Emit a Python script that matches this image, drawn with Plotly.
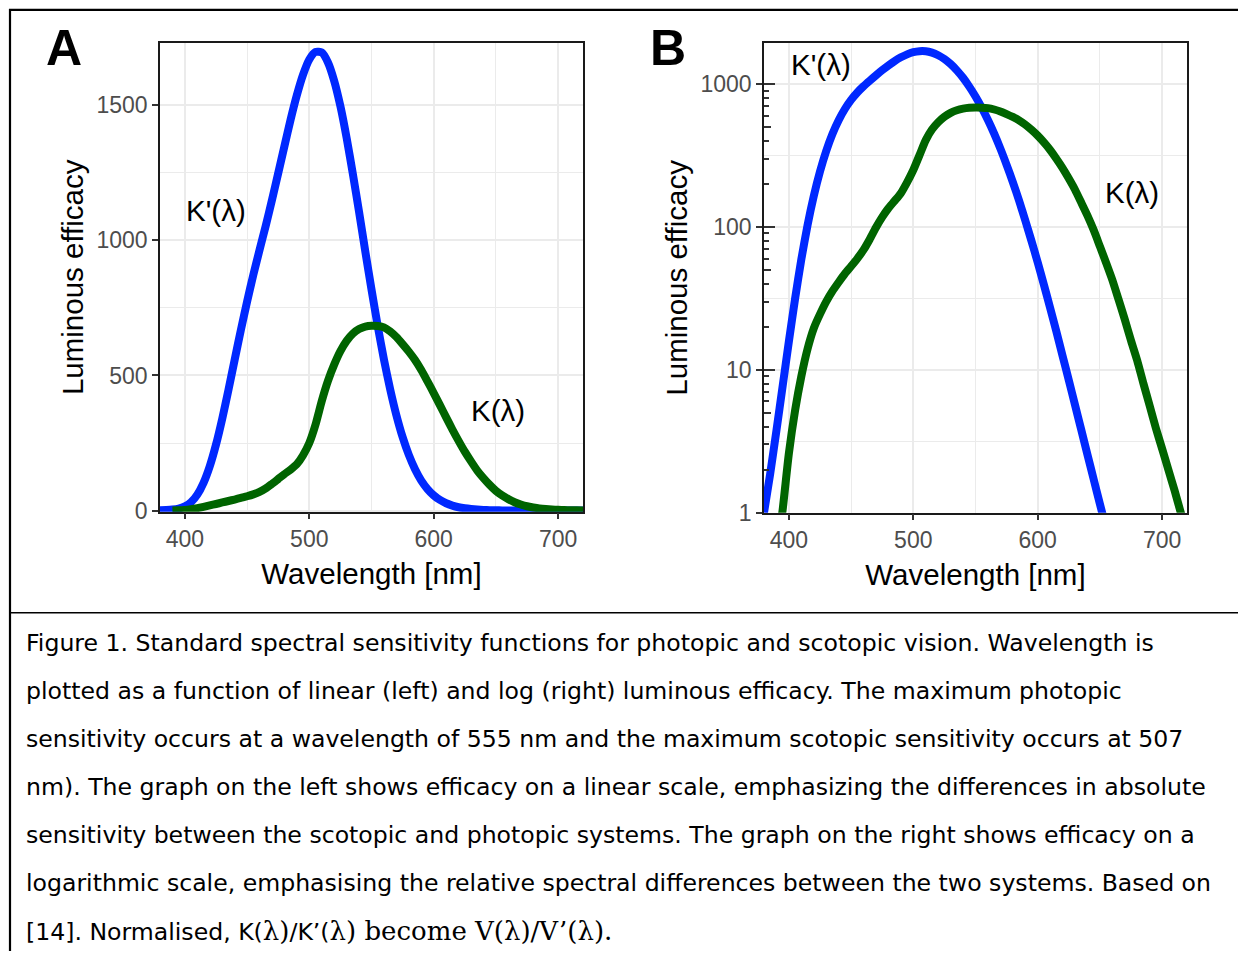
import plotly.graph_objects as go

# ---------------- data ----------------
wl_scotopic = [380, 385, 390, 395, 400, 405, 410, 415, 420, 425, 430, 435, 440, 445, 450, 455, 460, 465,
               470, 475, 480, 485, 490, 495, 500, 505, 510, 515, 520, 525, 530, 535, 540, 545, 550, 555,
               560, 565, 570, 575, 580, 585, 590, 595, 600, 605, 610, 615, 620, 625, 630, 635, 640, 645,
               650, 655, 660, 665, 670, 675, 680, 685, 690, 695, 700, 705, 710, 715, 720]
k_scotopic = [1.0, 1.88, 3.76, 7.70, 15.8, 31.5, 59.2, 102.7, 164.2, 244.1, 339.7, 446.3, 557.8, 668.3,
              773.5, 872.1, 963.9, 1054, 1149, 1248, 1348, 1447, 1537, 1613, 1669, 1697, 1695, 1658, 1590,
              1496, 1379, 1246, 1105, 959, 818, 683, 559, 449, 353, 272, 206, 153, 111, 79.7, 56.4, 39.3,
              27.1, 18.5, 12.5, 8.45, 5.67, 3.80, 2.54, 1.71, 1.15, 0.78, 0.53, 0.37, 0.25, 0.17, 0.12,
              0.085, 0.06, 0.043, 0.03, 0.022, 0.015, 0.011, 0.008]

wl_photopic = [390, 395, 400, 405, 410, 415, 420, 425, 430, 435, 440, 445, 450, 455, 460, 465, 470, 475,
               480, 485, 490, 495, 500, 505, 510, 515, 520, 525, 530, 535, 540, 545, 550, 555, 560, 565,
               570, 575, 580, 585, 590, 595, 600, 605, 610, 615, 620, 625, 630, 635, 640, 645, 650, 655,
               660, 665, 670, 675, 680, 685, 690, 695, 700, 705, 710, 715, 720]
k_photopic = [0.5, 1.05, 2.6, 5.2, 9.0, 14.0, 19.5, 24.5, 30, 35.5, 41, 47, 53, 60, 69, 82, 99, 117, 135,
              152, 172, 205, 250, 318, 405, 480, 540, 590, 628, 655, 672, 681, 684, 683, 678, 663, 642,
              616, 588, 557, 520, 478, 435, 390, 345, 300, 258, 218, 182, 148, 120, 95, 73, 56, 42.5, 31,
              22.5, 16, 11.6, 8.0, 5.6, 3.9, 2.8, 2.0, 1.43, 1.0, 0.7]

x_ticks = [400, 500, 600, 700]
x_minor = [450, 550, 650]
yA_ticks = [0, 500, 1000, 1500]
yA_minor = [250, 750, 1250]
yB_ticks = [1, 10, 100, 1000]
yB_labels = ["1", "10", "100", "1000"]
yB_minor_grid = [3.162, 31.62, 316.2]
yB_mid_ticks = [5, 50, 500]
yB_short_ticks = [2, 3, 4, 6, 7, 8, 9, 20, 30, 40, 60, 70, 80, 90, 200, 300, 400, 600, 700, 800, 900]

caption_lines = [
    "Figure 1. Standard spectral sensitivity functions for photopic and scotopic vision. Wavelength is",
    "plotted as a function of linear (left) and log (right) luminous efficacy. The maximum photopic",
    "sensitivity occurs at a wavelength of 555 nm and the maximum scotopic sensitivity occurs at 507",
    "nm). The graph on the left shows efficacy on a linear scale, emphasizing the differences in absolute",
    "sensitivity between the scotopic and photopic systems. The graph on the right shows efficacy on a",
    "logarithmic scale, emphasising the relative spectral differences between the two systems. Based on",
]
SERIF_STYLE = "font-family:'DejaVu Serif', 'Liberation Serif', serif;font-size:26px"
caption_last = ("[14]. Normalised, K(<span style=\"" + SERIF_STYLE + "\">λ)</span>/K’(" +
                "<span style=\"" + SERIF_STYLE + "\">λ) become V(λ)/V’(λ).</span>")

# ---------------- layout helpers ----------------
W, H = 1230, 956
OFF = 8        # browser body margin
YSCALE = 0.986  # vertical squeeze observed in the photographed page


def px(x):
    return (x - OFF) / W


def py(y):
    page_y = 10 + (y - 10) / YSCALE
    return 1 - (page_y - OFF) / H


SANS = "'Liberation Sans', Arial, Helvetica, sans-serif"
CAPF = "'DejaVu Sans', sans-serif"
BLUE = "#0028FF"
GREEN = "#006400"
GRID = "#EBEBEB"
TICKC = "#333333"
LABC = "#4D4D4D"
LW = 8

fig = go.Figure()

for xa, ya in [("x", "y"), ("x2", "y2")]:
    fig.add_trace(go.Scatter(x=wl_scotopic, y=k_scotopic, mode="lines", xaxis=xa, yaxis=ya,
                             line=dict(color=BLUE, width=LW, shape="spline", smoothing=0.6),
                             showlegend=False, hoverinfo="skip"))
    fig.add_trace(go.Scatter(x=wl_photopic, y=k_photopic, mode="lines", xaxis=xa, yaxis=ya,
                             line=dict(color=GREEN, width=LW, shape="spline", smoothing=0.6),
                             showlegend=False, hoverinfo="skip"))

# empty traces for the overlay log-tick axes
fig.add_trace(go.Scatter(x=[], y=[], xaxis="x2", yaxis="y3", showlegend=False))
fig.add_trace(go.Scatter(x=[], y=[], xaxis="x2", yaxis="y4", showlegend=False))

common_x = dict(range=[380, 720], tickvals=x_ticks, ticks="outside", ticklen=6, tickwidth=1.5,
                tickcolor=TICKC, tickfont=dict(size=23, color=LABC, family=SANS),
                showgrid=True, gridcolor=GRID, gridwidth=2,
                minor=dict(tickvals=x_minor, showgrid=True, gridcolor=GRID, gridwidth=1.2, ticks=""),
                showline=True, mirror=True, linecolor="#1a1a1a", linewidth=1.6, zeroline=False,
                title=dict(text="Wavelength [nm]", font=dict(size=29.5, color="black", family=SANS),
                           standoff=12))
common_y = dict(ticks="outside", ticklen=6, tickwidth=1.5, tickcolor=TICKC,
                tickfont=dict(size=23, color=LABC, family=SANS),
                showgrid=True, gridcolor=GRID, gridwidth=2,
                showline=True, mirror=True, linecolor="#1a1a1a", linewidth=1.6, zeroline=False,
                title=dict(text="Luminous efficacy", font=dict(size=29.5, color="black", family=SANS),
                           standoff=4))

yB_range = [0, 3.287]

fig.update_layout(
    width=W, height=H, margin=dict(l=0, r=0, t=0, b=0),
    paper_bgcolor="white", plot_bgcolor="white", showlegend=False,
    xaxis=dict(domain=[px(160), px(583)], anchor="y", **common_x),
    xaxis2=dict(domain=[px(764), px(1187)], anchor="y2", **common_x),
    yaxis=dict(domain=[py(511.5), py(43)], anchor="x", range=[-4, 1730], tickvals=yA_ticks,
               minor=dict(tickvals=yA_minor, showgrid=True, gridcolor=GRID, gridwidth=1.2, ticks=""),
               **common_y),
    yaxis2=dict(domain=[py(512.5), py(43)], anchor="x2", type="log", range=yB_range,
                tickvals=yB_ticks, ticktext=yB_labels,
                minor=dict(tickvals=yB_minor_grid, showgrid=True, gridcolor=GRID, gridwidth=1.2, ticks=""),
                **common_y),
    yaxis3=dict(overlaying="y2", anchor="x2", side="left", type="log", range=yB_range,
                tickvals=yB_ticks, showticklabels=False, ticks="inside", ticklen=11, tickwidth=1.5,
                tickcolor=TICKC, showgrid=False, showline=False, zeroline=False,
                minor=dict(tickvals=yB_mid_ticks, ticks="inside", ticklen=7, tickwidth=1.5,
                           tickcolor=TICKC, showgrid=False)),
    yaxis4=dict(overlaying="y2", anchor="x2", side="left", type="log", range=yB_range,
                tickvals=yB_short_ticks, showticklabels=False, ticks="inside", ticklen=5, tickwidth=1.5,
                tickcolor=TICKC, showgrid=False, showline=False, zeroline=False),
)

annotations = [
    dict(text="<b>A</b>", x=px(64), y=py(48), xref="paper", yref="paper", showarrow=False,
         font=dict(size=50, color="black", family=SANS), xanchor="center", yanchor="middle"),
    dict(text="<b>B</b>", x=px(668), y=py(48), xref="paper", yref="paper", showarrow=False,
         font=dict(size=50, color="black", family=SANS), xanchor="center", yanchor="middle"),
    dict(text="K'(λ)", x=425, y=1110, xref="x", yref="y", showarrow=False,
         font=dict(size=29.5, color="black", family=SANS)),
    dict(text="K(λ)", x=652, y=372, xref="x", yref="y", showarrow=False,
         font=dict(size=29.5, color="black", family=SANS)),
    dict(text="K'(λ)", x=425.5, y=3.133, xref="x2", yref="y2", showarrow=False,
         font=dict(size=29.5, color="black", family=SANS)),
    dict(text="K(λ)", x=676, y=2.238, xref="x2", yref="y2", showarrow=False,
         font=dict(size=29.5, color="black", family=SANS)),
]
for i, line in enumerate(caption_lines + [caption_last]):
    annotations.append(dict(text=line, x=px(24), y=py(643 + 48 * i), xref="paper", yref="paper",
                            showarrow=False, xanchor="left", yanchor="middle", align="left",
                            font=dict(size=23.6, color="black", family=CAPF)))
fig.update_layout(annotations=annotations)

# frame lines of the figure box
fig.update_layout(shapes=[
    dict(type="line", xref="paper", yref="paper", x0=px(9), x1=1, y0=py(10), y1=py(10),
         line=dict(color="black", width=2.2)),
    dict(type="line", xref="paper", yref="paper", x0=px(10), x1=px(10), y0=py(9), y1=0,
         line=dict(color="black", width=2.2)),
    dict(type="line", xref="paper", yref="paper", x0=px(10), x1=1, y0=py(612.5), y1=py(612.5),
         line=dict(color="black", width=1.5)),
])

fig.write_html("out.html")
